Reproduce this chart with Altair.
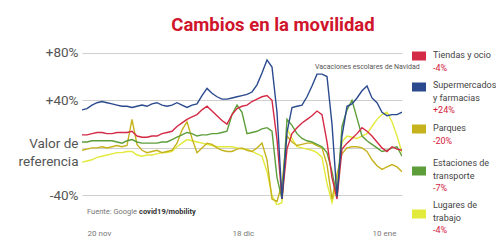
import altair as alt
import pandas as pd

# ---------------- data ----------------
dias = list(range(65))

tiendas = [11, 11, 12, 13, 13, 12, 12, 13, 13, 13,
           14, 10, 9, 9, 10, 10, 12, 13, 14, 18,
           21, 24, 26, 28, 32, 35, 31, 27, 23, 20,
           28, 33, 35, 36, 39, 41, 43, 44, 40, 7,
           -43, -1, 12, 17, 21, 24, 27, 31, 28, 5,
           -25, -43, -1, 4, 8, 12, 17, 14, 10, 5,
           0, -3, 1, -1, -2]

supermercados = [32, 33, 36, 38, 39, 38, 37, 36, 35, 35,
                 34, 35, 36, 35, 37, 38, 36, 35, 36, 38,
                 36, 34, 36, 37, 44, 50, 46, 43, 41, 41,
                 42, 43, 44, 45, 47, 53, 63, 74, 68, 30,
                 -43, 13, 34, 35, 36, 43, 52, 62, 62, 60,
                 20, -41, 10, 35, 37, 42, 48, 52, 42, 38,
                 30, 27, 28, 28, 30]

parques = [-2, -1, 0, 0, 1, 0, 1, 2, 1, 2,
           24, 3, -2, -4, -3, -2, -4, -3, -2, 4,
           15, 22, 8, -4, 0, 4, 3, 0, -2, -3,
           -3, -1, 0, -2, -3, 0, 4, -10, -43, -45,
           -30, 10, 5, 2, 3, 4, 4, 2, 0, -14,
           -43, -22, -5, 0, 1, 1, 0, -3, -10, -15,
           -18, -16, -14, -16, -20]

estaciones = [5, 5, 6, 6, 6, 6, 6, 5, 4, 6,
              7, 5, 4, 4, 4, 4, 5, 5, 7, 9,
              11, 13, 12, 10, 11, 11, 12, 12, 13, 14,
              28, 36, 30, 12, 13, 14, 16, 17, 14, -25,
              -43, 24, 19, 12, 8, 6, 5, 3, 1, -4,
              -20, -41, 18, 32, 40, 25, 10, 6, 3, 0,
              -3, -2, 0, 1, -7]

lugares = [-12, -11, -10, -8, -7, -6, -5, -4, -4, -3,
           -3, -6, -7, -6, -6, -5, -4, -4, -3, 1,
           4, 7, 6, 5, 4, 3, 2, 1, 1, 1,
           1, 0, -1, -1, -3, -5, -7, -20, -40, -48,
           -46, 16, 8, 1, 0, -1, -2, -4, -8, -30,
           -46, -30, 5, 10, 9, 8, 10, 12, 18, 24,
           28, 30, 22, 10, -4]

categorias = ["Tiendas y ocio", "Supermercados\ny farmacias", "Parques",
              "Estaciones de\ntransporte", "Lugares de\ntrabajo"]
cambios = ["-4%", "+24%", "-20%", "-7%", "-4%"]
series = [tiendas, supermercados, parques, estaciones, lugares]

x_ticks = [1, 30, 58]
x_labels = ["20 nov", "18 dic", "10 ene"]
y_ticks = [-40, 0, 40, 80]

titulo = "Cambios en la movilidad"
nota = "Vacaciones escolares de Navidad"
fuente_1 = "Fuente: Google"
fuente_2 = "covid19/mobility"

# ---------------- styles / layout ----------------
colores = ["#d42a45", "#2b4a8e", "#c6b21c", "#5d9e3a", "#e2ea3c"]
orden_dibujo = [4, 2, 3, 0, 1]
W, H = 320, 157
FONT = "Roboto"

x_scale = alt.Scale(domain=[0, 64], nice=False, zero=False)
y_scale = alt.Scale(domain=[-48, 84], nice=False, zero=False)

label_expr_x = " : ".join(
    f"datum.value == {v} ? '{l}'" for v, l in zip(x_ticks[:-1], x_labels[:-1])
) + f" : '{x_labels[-1]}'"

x_axis = alt.Axis(values=x_ticks, labelExpr=label_expr_x, labelAlign="left",
                  labelPadding=24, domain=False, ticks=False, grid=False,
                  labelFontSize=8, labelColor="#777777", labelFont=FONT, title=None)
y_axis = alt.Axis(values=y_ticks,
                  labelExpr="datum.value == 0 ? ['Valor de', 'referencia'] : "
                            "(datum.value > 0 ? '+' : '') + datum.value + '%'",
                  domain=False, ticks=False, grid=True, gridColor="#cfcfcf",
                  gridWidth=1, labelFontSize=13.5, labelColor="#555555",
                  labelFont=FONT, labelPadding=4, labelLineHeight=18,
                  labelOffset={"condition": {"test": "datum.value == 0", "value": -4}, "value": 0},
                  title=None)

layers = []
for k in orden_dibujo:
    df = pd.DataFrame({"dia": dias, "valor": series[k]})
    layers.append(
        alt.Chart(df).mark_line(strokeWidth=1.4, color=colores[k], clip=True).encode(
            x=alt.X("dia:Q", scale=x_scale, axis=x_axis),
            y=alt.Y("valor:Q", scale=y_scale, axis=y_axis),
        )
    )


def texto(t, x, y, **kw):
    return alt.Chart(pd.DataFrame({"t": [t]})).mark_text(font=FONT, **kw).encode(
        x=alt.value(x), y=alt.value(y), text="t:N")


layers.append(texto(titulo, 191, -23, fontSize=18.5, fontWeight="bold",
                    color="#d0142c", align="center", baseline="middle"))
layers.append(texto(nota, 233, 19, fontSize=7, color="#555555",
                    align="left", baseline="middle"))
layers.append(texto(fuente_1, 5, 164, fontSize=7.5, color="#777777",
                    align="left", baseline="middle"))
layers.append(texto(fuente_2, 57, 164, fontSize=7.5, fontWeight="bold",
                    color="#333333", align="left", baseline="middle"))

# custom legend
LH = 12.5
sw_y = [8, 39, 81, 123, 166]
tx_y = [10, 40, 83, 118, 160]
for i, (cat, val) in enumerate(zip(categorias, cambios)):
    layers.append(alt.Chart(pd.DataFrame({"c": [cat]})).mark_rect(color=colores[i]).encode(
        x=alt.value(330), x2=alt.value(344),
        y=alt.value(sw_y[i] - 4.5), y2=alt.value(sw_y[i] + 4.5)))
    n = cat.count("\n") + 1
    layers.append(texto(cat, 351, tx_y[i], fontSize=9, color="#444444",
                        align="left", baseline="alphabetic", lineBreak="\n",
                        lineHeight=LH))
    layers.append(texto(val, 351, tx_y[i] + n * LH, fontSize=9, color="#d4213d",
                        align="left", baseline="alphabetic"))

chart = alt.layer(*layers).properties(
    width=W, height=H,
    padding={"left": 74, "top": 40, "right": 94, "bottom": 31},
    autosize=alt.AutoSizeParams(type="none"),
    background="white",
).configure_view(stroke=None)

chart.save("out.html", embed_options={"renderer": "svg", "actions": False})
